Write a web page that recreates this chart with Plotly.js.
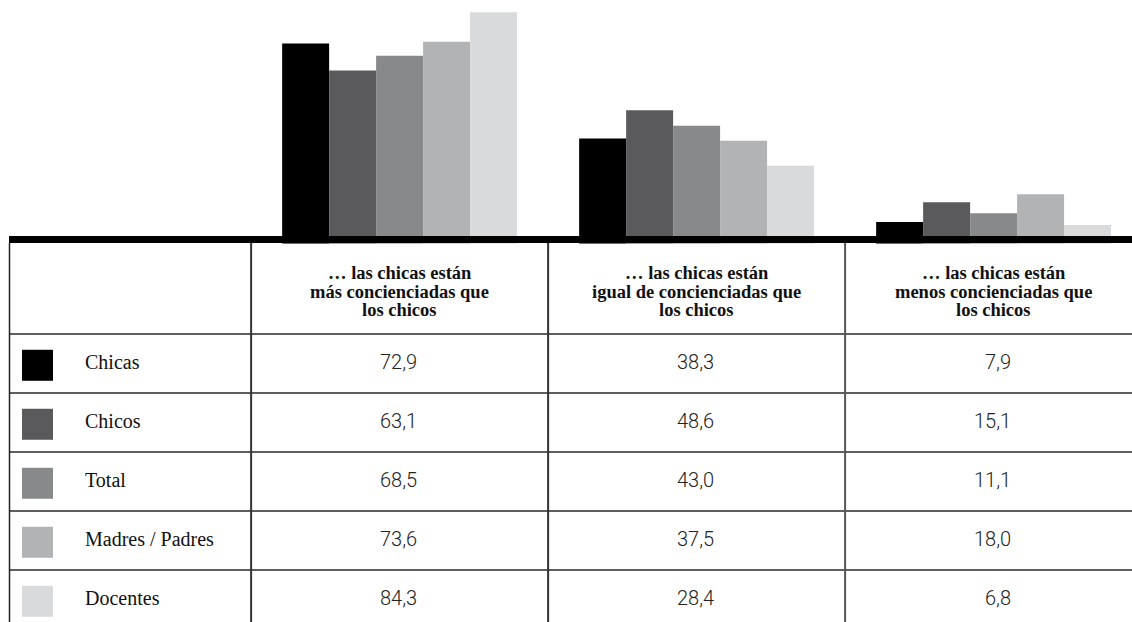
<!DOCTYPE html>
<html>
<head>
<meta charset="utf-8">
<script src="https://cdn.plot.ly/plotly-3.0.1.min.js"></script>
<style>html,body{margin:0;padding:0;background:#fff;}#chart{width:1132px;height:622px;}</style>
</head>
<body>
<div id="chart"></div>
<script>
// ---- data ----
const categories = [
  "… las chicas están<br>más concienciadas que<br>los chicos",
  "… las chicas están<br>igual de concienciadas que<br>los chicos",
  "… las chicas están<br>menos concienciadas que<br>los chicos"
];
const seriesNames = ["Chicas", "Chicos", "Total", "Madres / Padres", "Docentes"];
const chicas       = [72.9, 38.3, 7.9];
const chicos       = [63.1, 48.6, 15.1];
const total        = [68.5, 43.0, 11.1];
const madresPadres = [73.6, 37.5, 18.0];
const docentes     = [84.3, 28.4, 6.8];

// ---- styles ----
const colors = ["#000000", "#5a5a5c", "#88898b", "#b2b3b5", "#d9dadc"];
const W = 1132, H = 622;
const px = x => x / W;
const py = y => 1 - y / H;

const seriesValues = [chicas, chicos, total, madresPadres, docentes];

const traces = seriesNames.map((n, i) => ({
  type: "bar",
  name: n,
  x: categories,
  y: seriesValues[i],
  xaxis: "x",
  yaxis: "y",
  marker: { color: colors[i], line: { width: 0 } },
  hoverinfo: "skip"
}));

const zeroY = 243.75, pxPerUnit = 2.746;
const tableTop = 243, headerBottom = 334, rowH = 59;

const shapes = [];
const annotations = [];

// thick black rule
shapes.push({ type: "rect", xref: "paper", yref: "paper", x0: px(9), x1: 1, y0: py(243), y1: py(236),
  fillcolor: "#000", line: { width: 0 }, layer: "above" });

// horizontal row lines
for (let r = 0; r < seriesNames.length; r++) {
  shapes.push({ type: "line", xref: "paper", yref: "y2", x0: px(9), x1: 1, y0: r, y1: r,
    line: { color: "#2a2a2a", width: 1.5 } });
}
// left border
shapes.push({ type: "line", xref: "paper", yref: "paper", x0: px(9.5), x1: px(9.5), y0: 0, y1: py(tableTop),
  line: { color: "#222", width: 1.5 } });
// column dividers
categories.forEach((c, i) => {
  shapes.push({ type: "line", xref: "x", yref: "paper", x0: i - 0.5, x1: i - 0.5, y0: 0, y1: py(tableTop),
    line: { color: i === 2 ? "#555" : "#333", width: 2 } });
});

// header text (split lines)
const headerLineY = [-1.029, -0.707, -0.407];
categories.forEach((c, i) => {
  c.split("<br>").forEach((line, k) => {
    annotations.push({ xref: "x", yref: "y2", x: i, y: headerLineY[k], text: line, showarrow: false,
      xanchor: "center", yanchor: "middle",
      font: { family: "Liberation Serif, Times New Roman, serif", size: 18.5, color: "#111", weight: "bold" } });
  });
});

// rows: swatches, labels, values
const fmt = v => v.toFixed(1).replace(".", ",");
seriesNames.forEach((n, r) => {
  const yc = r + 0.5;
  const half = 15.5 / rowH;
  shapes.push({ type: "rect", xref: "paper", yref: "y2", x0: px(22), x1: px(53), y0: yc - half + 0.03, y1: yc + half + 0.03,
    fillcolor: colors[r], line: { width: 0 } });
  annotations.push({ xref: "paper", yref: "y2", x: px(83), y: yc - 0.03, text: n, showarrow: false,
    xanchor: "left", yanchor: "middle",
    font: { family: "Liberation Serif, Times New Roman, serif", size: 20, color: "#111" } });
  seriesValues[r].forEach((v, i) => {
    annotations.push({ xref: "x", yref: "y2", x: i, y: yc - 0.03, text: fmt(v), showarrow: false,
      xanchor: "right", yanchor: "middle", xshift: 19,
      font: { family: "Roboto, Liberation Sans, sans-serif", size: 20, color: "#222", weight: 300 } });
  });
});

const layout = {
  width: W, height: H,
  margin: { l: 0, r: 0, t: 0, b: 0, pad: 0 },
  paper_bgcolor: "#fff",
  plot_bgcolor: "rgba(0,0,0,0)",
  showlegend: false,
  barmode: "group",
  bargap: 0.209,
  bargroupgap: 0,
  xaxis: { type: "category", range: [-1.3455, 2.466], showticklabels: false, showgrid: false,
    zeroline: false, showline: false, ticks: "", fixedrange: true },
  yaxis: { domain: [py(zeroY), 1], range: [0, zeroY / pxPerUnit], visible: false, showgrid: false,
    zeroline: false, fixedrange: true },
  yaxis2: { domain: [0, py(tableTop)], range: [(H - headerBottom) / rowH, -(headerBottom - tableTop) / rowH],
    anchor: "x", visible: false, showgrid: false, zeroline: false, fixedrange: true },
  shapes: shapes,
  annotations: annotations
};

Plotly.newPlot("chart", traces, layout, { staticPlot: true, displayModeBar: false });
</script>
</body>
</html>
